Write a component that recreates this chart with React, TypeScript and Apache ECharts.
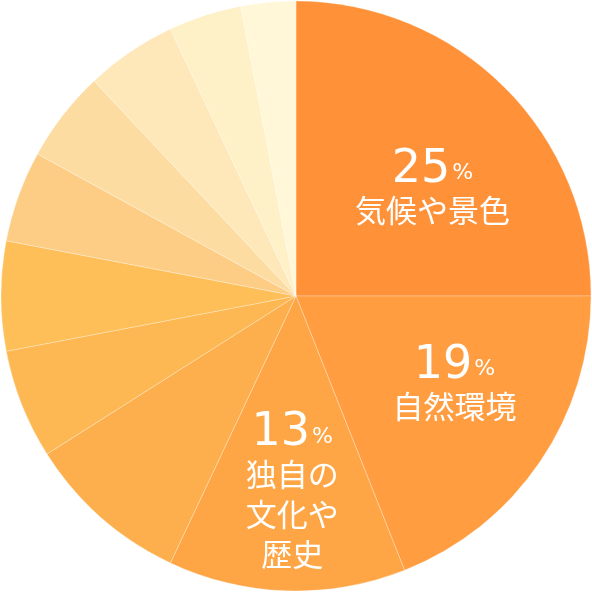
import * as echarts from "echarts";
import React, { useEffect, useRef } from "react";

// share of answers, clockwise from 12 o'clock
const topics = [
  "気候や景色",
  "自然環境",
  "独自の文化や歴史",
  "項目4",
  "項目5",
  "項目6",
  "項目7",
  "項目8",
  "項目9",
  "項目10",
  "項目11",
];
const shares = [25, 19, 13, 9, 6, 6, 5, 5, 5, 4, 3];
// only the three biggest slices carry a label (line breaks as drawn)
const labelTexts = ["気候や景色", "自然環境", "独自の\n文化や\n歴史"];

const palette = [
  "#FF9239",
  "#FF9D40",
  "#FEA646",
  "#FDAF4E",
  "#FDB853",
  "#FEBF58",
  "#FDCD86",
  "#FDDCA2",
  "#FEE7B9",
  "#FEF0C7",
  "#FFF7D7",
];
// nudges of the inside labels away from the half radius
const labelShift: [number, number][] = [
  [30, -7],
  [34, -2],
  [1, 40],
];

const App: React.FC = () => {
  const chartRef = useRef<HTMLDivElement | null>(null);

  useEffect(() => {
    const chart = echarts.init(chartRef.current, null, { renderer: "svg" });
    chart.setOption({
      animation: false,
      series: [
        {
          type: "pie",
          center: ["50%", "50%"],
          radius: [0, 295],
          startAngle: 90,
          clockwise: true,
          avoidLabelOverlap: false,
          emphasis: { scale: false },
          itemStyle: {
            borderColor: "rgba(255,255,255,0.35)",
            borderWidth: 0.8,
          },
          label: {
            position: "inside",
            color: "#fff",
            formatter: (p: any) => {
              const text = labelTexts[p.dataIndex];
              if (!text) return "";
              const lines = text.split("\n").map((l) => `{t|${l}}`);
              return [`{n|${p.value}}{p|%}`, ...lines].join("\n");
            },
            rich: {
              n: {
                fontFamily: "DejaVu Sans",
                fontSize: 46,
                color: "#fff",
                lineHeight: 52,
                verticalAlign: "bottom",
              },
              p: {
                fontFamily: "DejaVu Sans",
                fontSize: 22,
                color: "#fff",
                lineHeight: 52,
                verticalAlign: "bottom",
                padding: [0, 0, 6, 2],
              },
              t: {
                fontFamily: "Noto Sans CJK JP",
                fontSize: 31,
                color: "#fff",
                lineHeight: 40,
              },
            },
          },
          labelLine: { show: false },
          labelLayout: (params: any) => {
            const s = labelShift[params.dataIndex];
            return s ? { dx: s[0], dy: s[1] } : {};
          },
          data: shares.map((v, i) => ({
            name: topics[i],
            value: v,
            itemStyle: { color: palette[i] },
            label: { show: i < labelTexts.length },
          })),
        },
      ],
    });

    return () => {
      chart.dispose();
    };
  }, []);

  return (
    <div
      ref={chartRef}
      style={{ position: "fixed", left: 0, top: 0, width: 592, height: 592 }}
    ></div>
  );
};

export default App;
